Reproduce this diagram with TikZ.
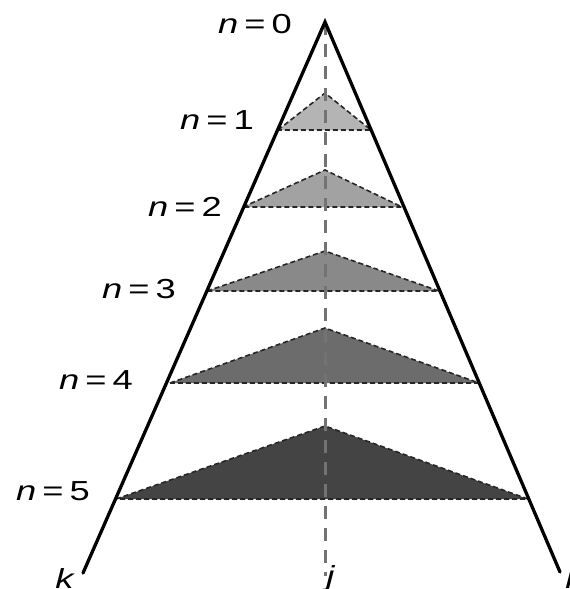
\documentclass[tikz,border=0pt]{standalone}
\usepackage{fontspec}
\setmainfont{Liberation Sans}
\begin{document}
\begin{tikzpicture}[x=1pt,y=-1pt,
  lbl/.style={font=\fontsize{27.5}{32}\selectfont, inner sep=0pt, xscale=1.32, anchor=base east},
  btm/.style={font=\fontsize{27.5}{32}\selectfont\itshape, inner sep=0pt, xscale=1.32, anchor=base west},
  tri/.style={draw=black!85, dash pattern=on 5pt off 3pt, line width=1.6pt},
  side/.style={line width=3.3pt, black, line cap=round},
  axis/.style={draw=black!55, line width=3pt, dash pattern=on 13pt off 9pt},
]
\useasboundingbox (0,0) rectangle (570,589);
\definecolor{g1}{HTML}{B4B4B4}
\definecolor{g2}{HTML}{A2A2A2}
\definecolor{g3}{HTML}{898989}
\definecolor{g4}{HTML}{6C6C6C}
\definecolor{g5}{HTML}{444444}
\coordinate (apex) at (325,22);
\coordinate (kend) at (83,573);
\coordinate (lend) at (560,572);
\coordinate (jend) at (325,576);
% triangles
\coordinate (l1) at (278,130); \coordinate (t1) at (325,93);  \coordinate (r1) at (371,130);
\coordinate (l2) at (243,207); \coordinate (t2) at (325,170); \coordinate (r2) at (402,207);
\coordinate (l3) at (207,291); \coordinate (t3) at (325,251); \coordinate (r3) at (439,291);
\coordinate (l4) at (170,383); \coordinate (t4) at (325,328); \coordinate (r4) at (479,383);
\coordinate (l5) at (116,499); \coordinate (t5) at (325,426); \coordinate (r5) at (528,499);
\filldraw[tri, fill=g1] (l1) -- (t1) -- (r1) -- cycle;
\filldraw[tri, fill=g2] (l2) -- (t2) -- (r2) -- cycle;
\filldraw[tri, fill=g3] (l3) -- (t3) -- (r3) -- cycle;
\filldraw[tri, fill=g4] (l4) -- (t4) -- (r4) -- cycle;
\filldraw[tri, fill=g5] (l5) -- (t5) -- (r5) -- cycle;
% axis
\draw[axis] (apex) -- (jend);
% sides
\draw[side] (kend) -- (apex) -- (lend);
% labels
\node[lbl] (n0) at (292,33) {\textit{n}\,=\,0};
\node[lbl] (n1) at (254,129) {\textit{n}\,=\,1};
\node[lbl] (n2) at (222,216) {\textit{n}\,=\,2};
\node[lbl] (n3) at (176,298) {\textit{n}\,=\,3};
\node[lbl] (n4) at (133,389) {\textit{n}\,=\,4};
\node[lbl] (n5) at (90,500) {\textit{n}\,=\,5};
\node[btm] (k) at (55,588) {k};
\node[btm] (j) at (326,585) {j};
\node[btm] (l) at (565,588) {l};
\end{tikzpicture}
\end{document}
